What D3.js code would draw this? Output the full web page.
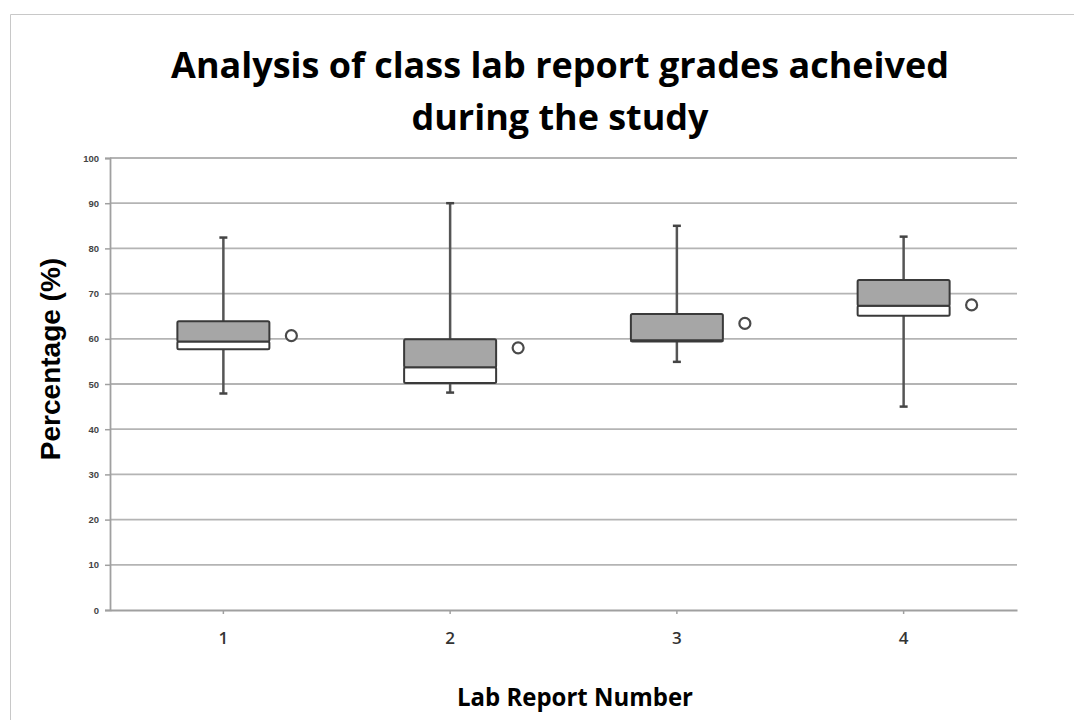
<!DOCTYPE html>
<html>
<head>
<meta charset="utf-8">
<script src="https://cdn.jsdelivr.net/npm/d3@7"></script>
<style>
  body { margin: 0; background: #fff; }
  svg { display: block; }
</style>
</head>
<body>
<script>
const reports = ['1', '2', '3', '4']
const whiskerLow = [47.9, 48.1, 54.9, 45.0]
const q1 = [57.7, 50.2, 59.4, 65.1]
const median = [59.4, 53.7, 59.7, 67.3]
const q3 = [63.9, 59.9, 65.5, 73.0]
const whiskerHigh = [82.4, 90.0, 85.0, 82.6]
const means = [60.7, 58.0, 63.4, 67.5]
const yTicks = [0, 10, 20, 30, 40, 50, 60, 70, 80, 90, 100]

const WIDTH = 1074
const HEIGHT = 720
const PLOT_LEFT = 110, PLOT_RIGHT = 1017, PLOT_TOP = 158, PLOT_BOTTOM = 610

const svg = d3.select('body').append('svg').attr('width', WIDTH).attr('height', HEIGHT)

// cadre de la capture
svg.append('path')
  .attr('d', `M10.5,${HEIGHT} V14.5 H${WIDTH}`)
  .attr('fill', 'none').attr('stroke', '#c8c8c8').attr('stroke-width', 1)

const x = d3.scaleBand().domain(reports).range([PLOT_LEFT, PLOT_RIGHT])
const y = d3.scaleLinear().domain([0, 100]).range([PLOT_BOTTOM, PLOT_TOP])

// grille
svg.append('g').selectAll('line')
  .data(yTicks.filter(d => d > 0))
  .enter().append('line')
  .attr('x1', PLOT_LEFT).attr('x2', PLOT_RIGHT)
  .attr('y1', d => y(d)).attr('y2', d => y(d))
  .attr('stroke', '#b4b4b4').attr('stroke-width', 1.8)

// axe y
const yAxis = svg.append('g')
  .attr('transform', `translate(${PLOT_LEFT},0)`)
  .call(d3.axisLeft(y).tickValues(yTicks).tickSize(5).tickPadding(6))
yAxis.select('.domain').attr('stroke', '#a0a0a0').attr('stroke-width', 1.8)
yAxis.selectAll('.tick line').attr('stroke', '#a0a0a0').attr('stroke-width', 1.5)
yAxis.selectAll('.tick text')
  .attr('font-family', 'Liberation Sans, Arial, sans-serif')
  .attr('font-weight', 'bold').attr('font-size', 9.5).attr('fill', '#444')

// axe x
const xAxis = svg.append('g')
  .attr('transform', `translate(0,${PLOT_BOTTOM})`)
  .call(d3.axisBottom(x).tickSize(4).tickPadding(18).tickSizeOuter(0))
xAxis.select('.domain').attr('stroke', '#a0a0a0').attr('stroke-width', 1.8)
xAxis.selectAll('.tick line').attr('stroke', '#a0a0a0').attr('stroke-width', 1.5)
xAxis.selectAll('.tick text')
  .attr('font-family', 'Open Sans, sans-serif')
  .attr('font-weight', 600).attr('font-size', 17).attr('fill', '#333')

const boxW = 92
const capW = 8
const cx = d => x(d) + x.bandwidth() / 2

const boxes = svg.append('g').selectAll('g')
  .data(reports)
  .enter().append('g')

// moustaches
boxes.append('line')
  .attr('x1', d => cx(d)).attr('x2', d => cx(d))
  .attr('y1', (d, i) => y(whiskerHigh[i])).attr('y2', (d, i) => y(whiskerLow[i]))
  .attr('stroke', '#555').attr('stroke-width', 2.5)
boxes.append('line')
  .attr('x1', d => cx(d) - capW / 2).attr('x2', d => cx(d) + capW / 2)
  .attr('y1', (d, i) => y(whiskerHigh[i])).attr('y2', (d, i) => y(whiskerHigh[i]))
  .attr('stroke', '#444').attr('stroke-width', 2.5)
boxes.append('line')
  .attr('x1', d => cx(d) - capW / 2).attr('x2', d => cx(d) + capW / 2)
  .attr('y1', (d, i) => y(whiskerLow[i])).attr('y2', (d, i) => y(whiskerLow[i]))
  .attr('stroke', '#444').attr('stroke-width', 2.5)

// partie basse (blanche) et haute (grise)
boxes.append('rect')
  .attr('x', d => cx(d) - boxW / 2).attr('width', boxW)
  .attr('y', (d, i) => y(median[i])).attr('height', (d, i) => y(q1[i]) - y(median[i]))
  .attr('fill', '#fff').attr('stroke', '#3a3a3a').attr('stroke-width', 2).attr('rx', 1.5)
boxes.append('rect')
  .attr('x', d => cx(d) - boxW / 2).attr('width', boxW)
  .attr('y', (d, i) => y(q3[i])).attr('height', (d, i) => y(median[i]) - y(q3[i]))
  .attr('fill', '#a6a6a6').attr('stroke', '#3a3a3a').attr('stroke-width', 2).attr('rx', 1.5)

// moyennes
boxes.append('circle')
  .attr('cx', d => cx(d) + 68)
  .attr('cy', (d, i) => y(means[i]))
  .attr('r', 5.5)
  .attr('fill', '#fff').attr('stroke', '#4a4a4a').attr('stroke-width', 2.2)

// resserre un texte horizontalement (Calibri n'est pas disponible)
function squeeze(sel, cxPos, width, node) {
  const len = (node || sel.node()).getComputedTextLength()
  const sx = width / len
  sel.attr('transform', `translate(${cxPos},0) scale(${sx},1) translate(${-cxPos},0)`)
}

// titres
const title = svg.append('text')
  .attr('text-anchor', 'middle')
  .attr('font-family', 'Open Sans, sans-serif')
  .attr('font-weight', 'bold').attr('font-size', 35).attr('fill', '#000')
title.append('tspan').attr('x', 560).attr('y', 78).text('Analysis of class lab report grades acheived')
title.append('tspan').attr('x', 560).attr('y', 130).text('during the study')
squeeze(title, 560, 778, title.select('tspan').node())

svg.append('text')
  .attr('transform', 'translate(60,359) rotate(-90)')
  .attr('text-anchor', 'middle')
  .attr('font-family', 'Liberation Sans, Arial, sans-serif')
  .attr('font-weight', 'bold').attr('font-size', 28).attr('fill', '#000')
  .text('Percentage (%)')

const xLabel = svg.append('text')
  .attr('x', 575).attr('y', 706)
  .attr('text-anchor', 'middle')
  .attr('font-family', 'Open Sans, sans-serif')
  .attr('font-weight', 'bold').attr('font-size', 25).attr('fill', '#000')
  .text('Lab Report Number')
squeeze(xLabel, 575, 236)
</script>
</body>
</html>
